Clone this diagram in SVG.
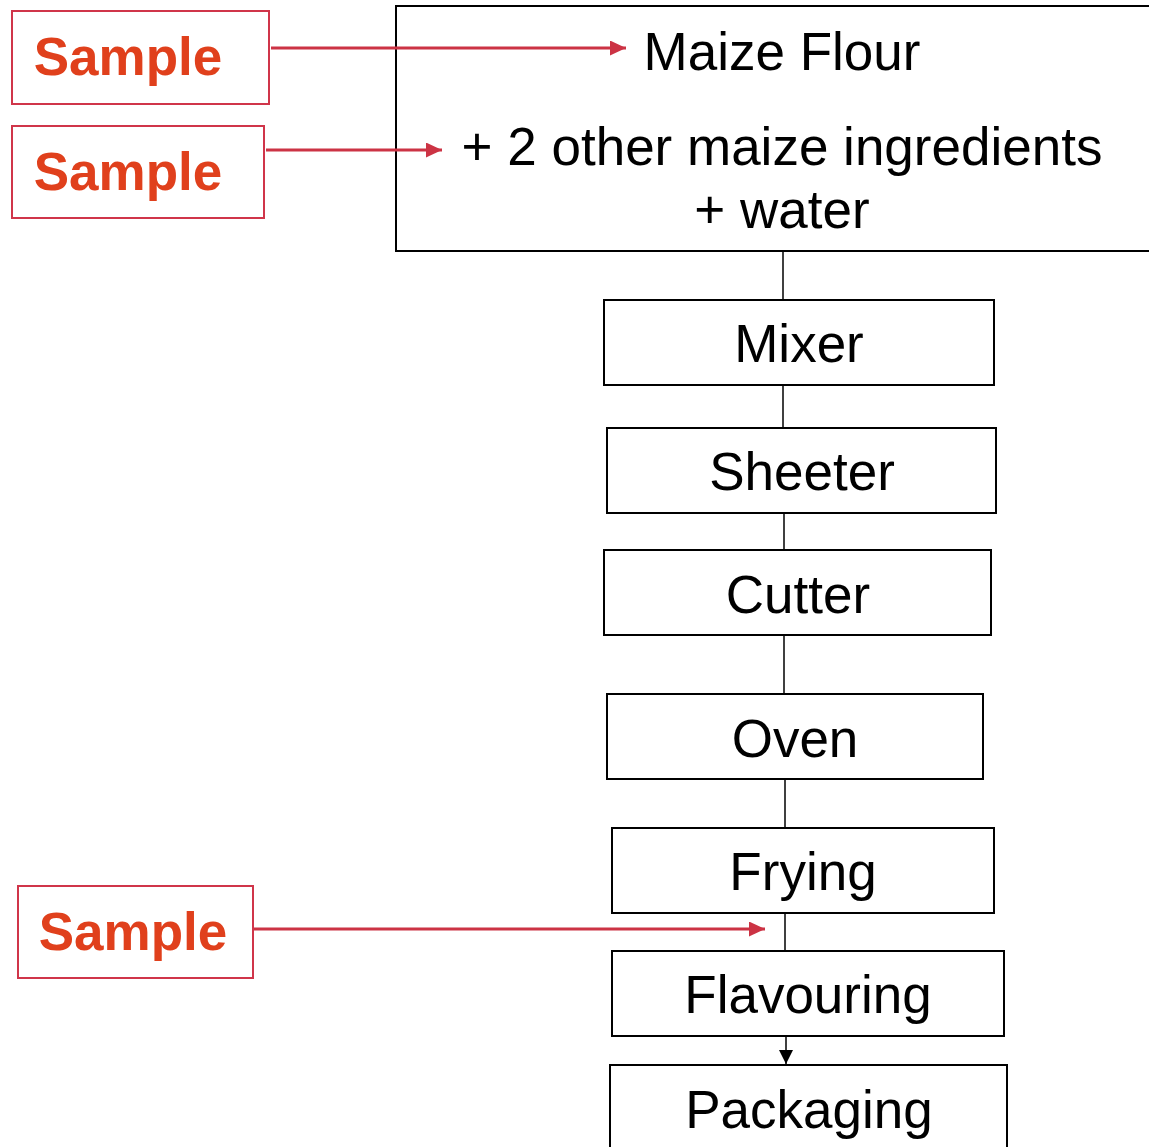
<svg xmlns="http://www.w3.org/2000/svg" width="1149" height="1147" viewBox="0 0 1149 1147">
<style>
.box{fill:#fff;stroke:#000;stroke-width:2}
.sbox{fill:#fff;stroke:#d0354a;stroke-width:2}
.t{font-family:"Liberation Sans",Arial,sans-serif;font-size:53px;fill:#000;text-anchor:middle}
.s{font-family:"Liberation Sans",Arial,sans-serif;font-size:53px;font-weight:bold;fill:#e0401c;text-anchor:middle}
.c{stroke:#000;stroke-width:1.5;fill:none}
.r{stroke:#cc3344;stroke-width:3;fill:none}
</style>
<defs>
<marker id="ra" markerWidth="16" markerHeight="15" refX="16" refY="7.5" orient="auto" markerUnits="userSpaceOnUse"><path d="M0,0 L16,7.5 L0,15 Z" fill="#cc3344"/></marker>
<marker id="ka" markerWidth="14" markerHeight="14" refX="14" refY="7" orient="auto" markerUnits="userSpaceOnUse"><path d="M0,0 L14,7 L0,14 Z" fill="#000"/></marker>
</defs>
<rect width="1149" height="1147" fill="#fff"/>
<g id="connectors">
<line class="c" x1="783" y1="251" x2="783" y2="300"/>
<line class="c" x1="783" y1="385" x2="783" y2="428"/>
<line class="c" x1="784" y1="513" x2="784" y2="550"/>
<line class="c" x1="784" y1="635" x2="784" y2="694"/>
<line class="c" x1="785" y1="779" x2="785" y2="828"/>
<line class="c" x1="785" y1="913" x2="785" y2="951"/>
<line class="c" x1="786" y1="1036" x2="786" y2="1064" marker-end="url(#ka)"/>
</g>
<g id="input">
<rect class="box" x="396" y="6" width="760" height="245"/>
<text class="t" x="782" y="70" font-size="54.3">Maize Flour</text>
<text class="t" x="782" y="165" font-size="54.3">+ 2 other maize ingredients</text>
<text class="t" x="782" y="228" font-size="54.3">+ water</text>
</g>
<g id="mixer"><rect class="box" x="604" y="300" width="390" height="85"/><text class="t" x="799" y="362">Mixer</text></g>
<g id="sheeter"><rect class="box" x="607" y="428" width="389" height="85"/><text class="t" x="802" y="490">Sheeter</text></g>
<g id="cutter"><rect class="box" x="604" y="550" width="387" height="85"/><text class="t" x="798" y="613">Cutter</text></g>
<g id="oven"><rect class="box" x="607" y="694" width="376" height="85"/><text class="t" x="795" y="757">Oven</text></g>
<g id="frying"><rect class="box" x="612" y="828" width="382" height="85"/><text class="t" x="803" y="890">Frying</text></g>
<g id="flavouring"><rect class="box" x="612" y="951" width="392" height="85"/><text class="t" x="808" y="1013">Flavouring</text></g>
<g id="packaging"><rect class="box" x="610" y="1065" width="397" height="100"/><text class="t" x="809" y="1128">Packaging</text></g>
<g id="sample1"><rect class="sbox" x="12" y="11" width="257" height="93"/><text class="s" x="128" y="75">Sample</text></g>
<g id="sample2"><rect class="sbox" x="12" y="126" width="252" height="92"/><text class="s" x="128" y="190">Sample</text></g>
<g id="sample3"><rect class="sbox" x="18" y="886" width="235" height="92"/><text class="s" x="133" y="950">Sample</text></g>
<g id="sample-arrows">
<line class="r" x1="271" y1="48" x2="626" y2="48" marker-end="url(#ra)"/>
<line class="r" x1="266" y1="150" x2="442" y2="150" marker-end="url(#ra)"/>
<line class="r" x1="254" y1="929" x2="765" y2="929" marker-end="url(#ra)"/>
</g>
</svg>
